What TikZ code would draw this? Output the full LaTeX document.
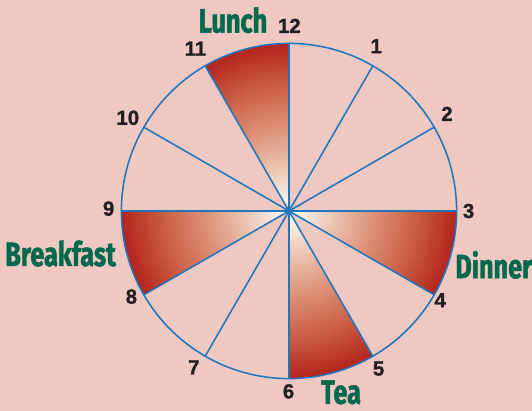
\documentclass[tikz,border=0pt]{standalone}
\usepackage{fontspec}
\setsansfont{Liberation Sans}
\newfontfamily\hourfont[BoldFeatures={FakeBold=1.2}]{Liberation Sans}
\newfontfamily\mealfont[FakeStretch=0.75, BoldFeatures={FakeBold=1.3}]{Fira Sans}
\usetikzlibrary{positioning}
\definecolor{bgPink}{HTML}{EFC9C1}
\definecolor{spokeBlue}{HTML}{1F75BE}
\definecolor{mealRed}{HTML}{B3241C}
\definecolor{mealPeach}{HTML}{EAC2AE}
\definecolor{mealSalmon}{HTML}{DB8D73}
\definecolor{mealBrick}{HTML}{C95C43}
\definecolor{mealGreen}{HTML}{00684C}
\definecolor{hourInk}{HTML}{231F20}
\pgfdeclareradialshading{mealshade}{\pgfpoint{0bp}{0bp}}{color(0bp)=(white);
  color(7bp)=(mealPeach); color(13bp)=(mealSalmon); color(19bp)=(mealBrick);
  color(25bp)=(mealRed); color(50bp)=(mealRed)}
\tikzset{
  spoke/.style={spokeBlue, line width=1.1pt},
  slice/.style={shading=mealshade},
  hour/.style={font=\hourfont\bfseries\fontsize{14.5}{16}\selectfont, text=hourInk, inner sep=0pt},
  meal/.style={font=\mealfont\bfseries\fontsize{24}{28}\selectfont, text=mealGreen, inner sep=0pt, anchor=base},
}

\begin{document}
\begin{tikzpicture}
  \def\R{4.19}
  % page colour and frame
  \fill[bgPink] (-7.225,-5.0) rectangle (6.075,5.275);
  \useasboundingbox (-7.225,-5.0) rectangle (6.075,5.275);
  \coordinate (c) at (0,0);
  % the four meal slices
  \foreach \a in {90,180,-30,-90} {
    \begin{scope}
      \clip (c) -- (\a:\R) arc (\a:\a+30:\R) -- cycle;
      \shade[slice] (c) circle (\R);
    \end{scope}
  }
  % spokes and rim
  \foreach \h in {1,...,12} \coordinate (r\h) at ({90-30*\h}:\R);
  \foreach \h in {1,...,12} \draw[spoke] (c) -- (r\h);
  \draw[spoke] (c) circle (\R);
  % hours
  \foreach \h/\x/\y in {12/0.01/4.63, 1/2.18/4.12, 2/3.95/2.43, 3/4.49/0,
      4/3.78/-2.23, 5/2.24/-3.94, 6/-0.01/-4.51, 7/-2.38/-3.91,
      8/-3.94/-2.14, 9/-4.51/0.06, 10/-4.03/2.33, 11/-2.34/4.06} {
     \node[hour] (h\h) at (\x,\y) {\h};
  }
  % meals
  \node[meal] (lunch) at (-1.4,4.46) {Lunch};
  \node[meal] (breakfast) at (-5.71,-1.375) {Breakfast};
  \node[meal] (dinner) at (5.12,-1.68) {Dinner};
  \node[meal] (tea) at (1.3,-4.82) {Tea};
\end{tikzpicture}
\end{document}
